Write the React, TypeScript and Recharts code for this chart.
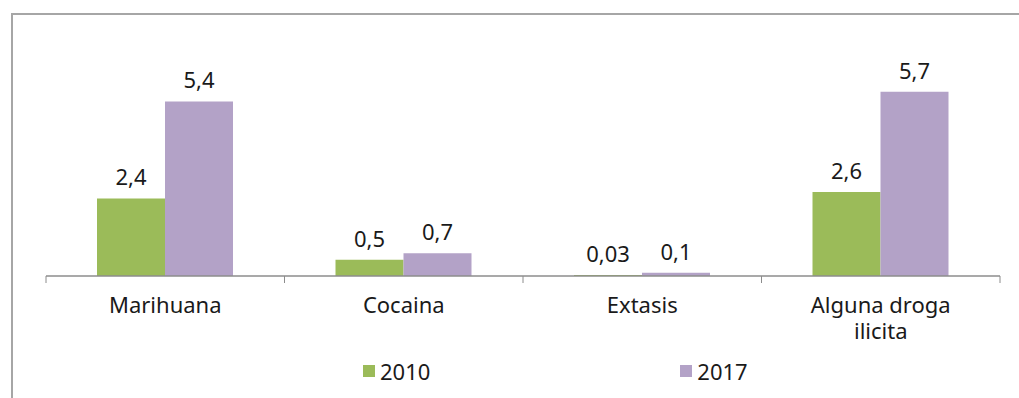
import { BarChart, Bar, XAxis, YAxis, Legend, LabelList } from 'recharts';

const categories = ['Marihuana', 'Cocaina', 'Extasis', 'Alguna droga ilicita'];
const values2010 = [2.4, 0.5, 0.03, 2.6];
const values2017 = [5.4, 0.7, 0.1, 5.7];
const seriesNames = ['2010', '2017'];
const colors = ['#9BBB59', '#B3A2C7'];

const data = categories.map((name, i) => ({
  name,
  a: values2010[i],
  b: values2017[i],
}));

const FONT = "'Noto Sans', sans-serif";
const AXIS = '#8c8c8c';
const MAX_CHARS = 14;

const fmt = (v: any) => String(v).replace('.', ',');

// simple word wrap for long category names
const wrap = (s: string) => {
  const lines: string[] = [];
  let cur = '';
  s.split(' ').forEach((w) => {
    const next = cur ? cur + ' ' + w : w;
    if (next.length > MAX_CHARS && cur) {
      lines.push(cur);
      cur = w;
    } else {
      cur = next;
    }
  });
  if (cur) lines.push(cur);
  return lines;
};

const CategoryTick = (props: any) => {
  const { x, y, payload, index, visibleTicksCount } = props;
  const half = payload && payload.offset ? payload.offset : 954 / 8;
  const last = index === (visibleTicksCount ?? 4) - 1;
  const lines = wrap(String(payload.value));
  return (
    <g>
      <line x1={x - half} y1={y} x2={x - half} y2={y + 7} stroke={AXIS} strokeWidth={1} />
      {last && <line x1={x + half} y1={y} x2={x + half} y2={y + 7} stroke={AXIS} strokeWidth={1} />}
      {lines.map((l, i) => (
        <text key={i} x={x} y={y + 37 + i * 26} textAnchor="middle" fontSize={22} fontFamily={FONT} fill="#1a1a1a">
          {l}
        </text>
      ))}
    </g>
  );
};

const LegendContent = () => (
  <div style={{ display: 'flex', paddingLeft: 363, fontFamily: FONT, fontSize: 22, color: '#1a1a1a' }}>
    {seriesNames.map((s, i) => (
      <div key={s} style={{ display: 'flex', alignItems: 'center', marginRight: 250 }}>
        <span style={{ display: 'inline-block', width: 12, height: 12, background: colors[i], marginRight: 5 }} />
        <span>{s}</span>
      </div>
    ))}
  </div>
);

export default function App() {
  return (
    <div style={{ position: 'absolute', left: 0, top: 0, width: 1019, height: 398, background: '#fff' }}>
      <div
        style={{
          position: 'absolute',
          left: 11,
          top: 13,
          width: 1019,
          height: 400,
          borderLeft: '2px solid #a6a6a6',
          borderTop: '2px solid #a6a6a6',
        }}
      />
      <BarChart
        width={1019}
        height={398}
        data={data}
        margin={{ top: 82, right: 19, left: 46, bottom: 0 }}
        barGap={0}
        barSize={68}
        style={{ position: 'absolute', left: 0, top: 0 }}
      >
        <XAxis
          dataKey="name"
          height={122}
          tickLine={false}
          tickSize={0}
          tickMargin={0}
          axisLine={{ stroke: AXIS, strokeWidth: 1.5 }}
          tick={<CategoryTick />}
          interval={0}
        />
        <YAxis hide domain={[0, 6]} />
        <Legend
          verticalAlign="middle"
          align="center"
          layout="horizontal"
          content={<LegendContent />}
          wrapperStyle={{ top: 356, left: 0, width: 1019 }}
        />
        <Bar dataKey="a" name={seriesNames[0]} fill={colors[0]} isAnimationActive={false}>
          <LabelList dataKey="a" position="top" offset={13} formatter={fmt} fontSize={22} fontFamily={FONT} fill="#1a1a1a" />
        </Bar>
        <Bar dataKey="b" name={seriesNames[1]} fill={colors[1]} isAnimationActive={false}>
          <LabelList dataKey="b" position="top" offset={13} formatter={fmt} fontSize={22} fontFamily={FONT} fill="#1a1a1a" />
        </Bar>
      </BarChart>
    </div>
  );
}
